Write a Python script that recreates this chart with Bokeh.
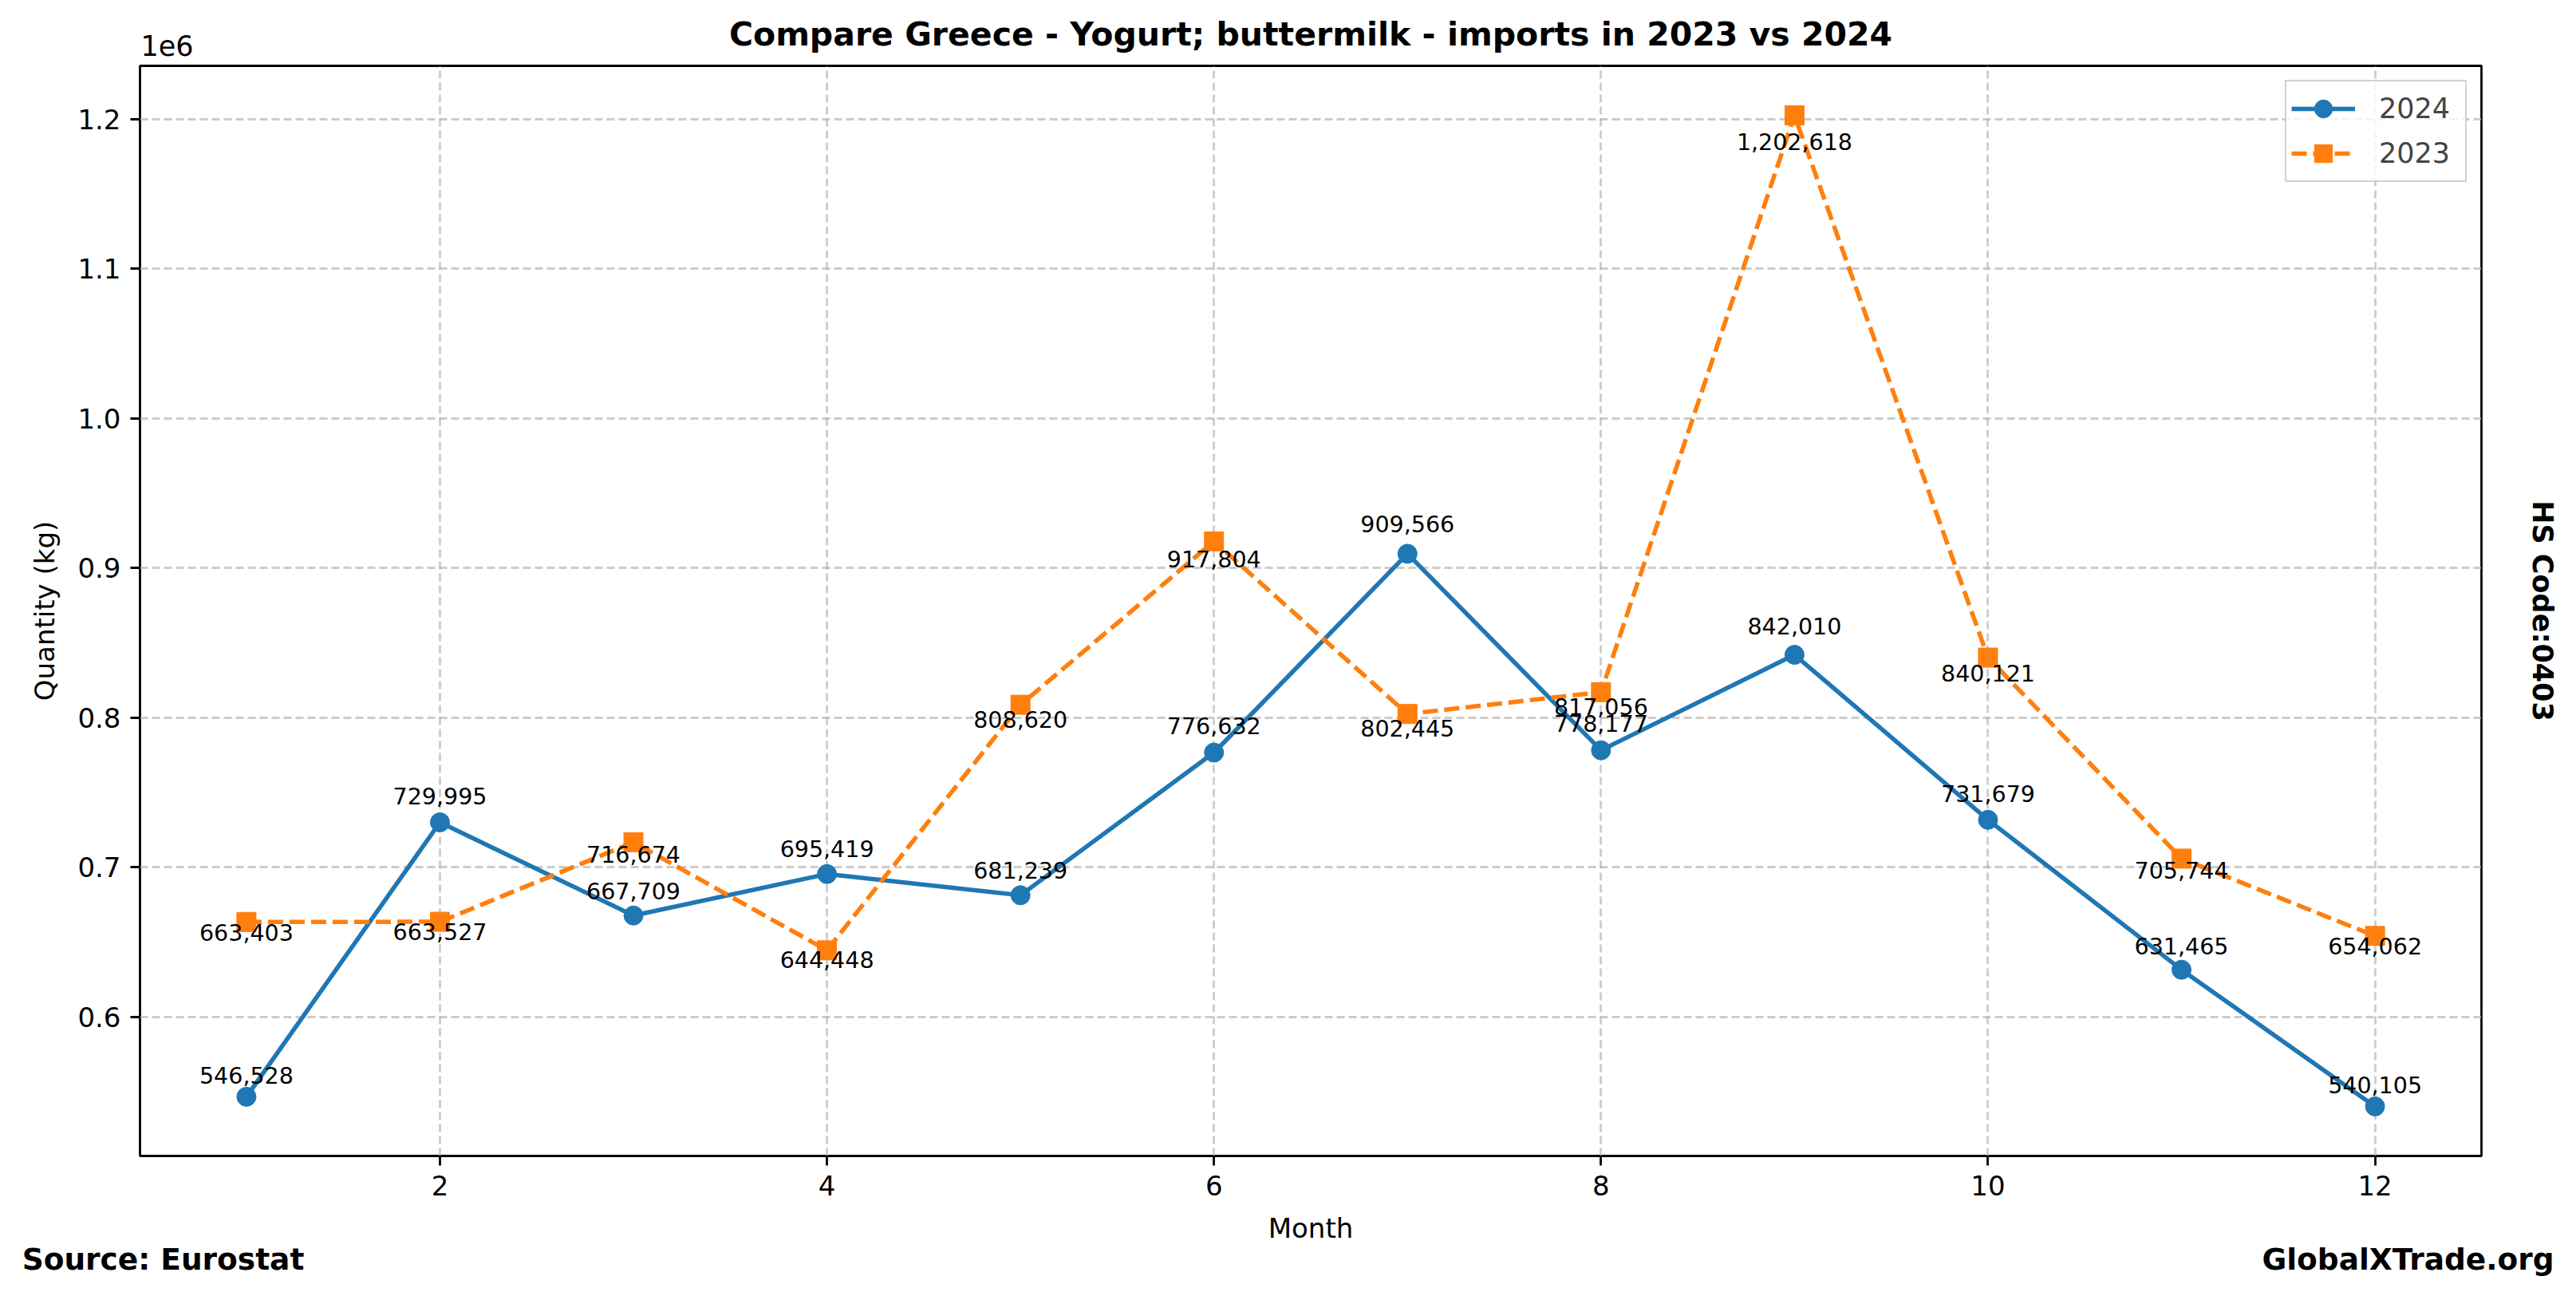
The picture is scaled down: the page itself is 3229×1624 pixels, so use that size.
from bokeh.plotting import figure
from bokeh.models import (Range1d, FixedTicker, CustomJSTickFormatter, LinearAxis,
                          Legend, LegendItem, ColumnDataSource)
from bokeh.core.properties import value
from bokeh.embed import file_html
from bokeh.resources import INLINE

months = [1, 2, 3, 4, 5, 6, 7, 8, 9, 10, 11, 12]
values_2024 = [546528, 729995, 667709, 695419, 681239, 776632,
               909566, 778177, 842010, 731679, 631465, 540105]
values_2023 = [663403, 663527, 716674, 644448, 808620, 917804,
               802445, 817056, 1202618, 840121, 705744, 654062]
x_ticks = [2, 4, 6, 8, 10, 12]
y_ticks = [600000, 700000, 800000, 900000, 1000000, 1100000, 1200000]

title_text = "Compare Greece - Yogurt; buttermilk - imports in 2023 vs 2024"
source_text = "Source: Eurostat"
site_text = "GlobalXTrade.org"
hs_text = "HS Code:0403"
FONT = "DejaVu Sans"
BLUE = "#1f77b4"
ORANGE = "#ff7f0e"

# value labels sit slightly above (2024) / below (2023) their point
LABEL_UP = 1.015
LABEL_DOWN = 0.98

all_vals = values_2024 + values_2023
vmin, vmax = min(all_vals), max(all_vals)
pad = 0.05 * (vmax - vmin)
xpad = 0.05 * (max(months) - min(months))

W, H = 3213, 1608
BL, BR, BT, BB = 175, 103, 82, 160
FW = W - BL - BR  # frame width in px

p = figure(width=W, height=H, output_backend="svg", toolbar_location=None,
           x_range=Range1d(min(months) - xpad, max(months) + xpad),
           y_range=Range1d(vmin - pad, vmax + pad),
           min_border_left=BL, min_border_right=BR,
           min_border_top=BT, min_border_bottom=BB)
p.background_fill_color = "white"
p.border_fill_color = "white"
p.outline_line_color = "black"
p.outline_line_width = 2.8
p.extra_x_ranges = {"px": Range1d(0, FW)}

# grid
for g in (p.xgrid, p.ygrid):
    g.grid_line_color = "#b0b0b0"
    g.grid_line_alpha = 0.65
    g.grid_line_width = 2.8
    g.grid_line_dash = "10 5"

p.xaxis.ticker = FixedTicker(ticks=x_ticks)
p.yaxis.ticker = FixedTicker(ticks=y_ticks)
p.yaxis.formatter = CustomJSTickFormatter(code="return (tick/1e6).toFixed(1);")
for ax in (p.xaxis, p.yaxis):
    ax.axis_line_color = None
    ax.major_tick_out = 12
    ax.major_tick_in = 0
    ax.major_tick_line_width = 2.8
    ax.major_tick_line_color = "black"
    ax.minor_tick_line_color = None
    ax.major_label_text_font = FONT
    ax.major_label_text_font_size = "34px"
    ax.major_label_text_color = "black"
    ax.major_label_standoff = 12
    ax.axis_label_text_font = FONT
    ax.axis_label_text_font_size = "34px"
    ax.axis_label_text_font_style = "normal"
    ax.axis_label_text_color = "black"
p.xaxis.axis_label = "Month"
p.yaxis.axis_label = "Quantity (kg)"
p.xaxis.axis_label_standoff = 18
p.yaxis.axis_label_standoff = 18


def bare_axis(ax):
    ax.axis_line_color = None
    ax.major_tick_line_color = None
    ax.minor_tick_line_color = None
    ax.major_tick_out = 0
    ax.major_tick_in = 0
    ax.minor_tick_out = 0
    ax.major_label_text_font = FONT
    ax.major_label_text_color = "black"
    ax.axis_label_text_font = FONT
    ax.axis_label_text_color = "black"
    return ax


# top: offset text "1e6" as a tick label, title as the axis label
top_ax = bare_axis(LinearAxis(x_range_name="px", ticker=FixedTicker(ticks=[34]),
                              formatter=CustomJSTickFormatter(code="return '1e6';")))
top_ax.major_label_text_font_size = "35px"
top_ax.major_label_standoff = 13
top_ax.axis_label = title_text
top_ax.axis_label_text_font_size = "41px"
top_ax.axis_label_text_font_style = "bold"
top_ax.axis_label_standoff = -26
p.add_layout(top_ax, "above")

# bottom footer texts
foot_ax = bare_axis(LinearAxis(
    x_range_name="px", ticker=FixedTicker(ticks=[29, FW - 92]),
    formatter=CustomJSTickFormatter(
        code=f"return tick < 1000 ? '{source_text}' : '{site_text}';")))
foot_ax.major_label_text_font_size = "37.5px"
foot_ax.major_label_text_font_style = "bold"
foot_ax.major_label_standoff = -6
p.add_layout(foot_ax, "below")

# right side HS code
right_ax = bare_axis(LinearAxis(ticker=FixedTicker(ticks=[]),
                                major_label_text_font_size="0px"))
right_ax.axis_label = hs_text
right_ax.axis_label_text_font_size = "35px"
right_ax.axis_label_text_font_style = "bold"
right_ax.axis_label_standoff = 56
p.add_layout(right_ax, "right")

# series
src24 = ColumnDataSource(dict(x=months, y=values_2024,
                              ty=[v * LABEL_UP for v in values_2024],
                              t=[f"{v:,}" for v in values_2024]))
src23 = ColumnDataSource(dict(x=months, y=values_2023,
                              ty=[v * LABEL_DOWN for v in values_2023],
                              t=[f"{v:,}" for v in values_2023]))

l24 = p.line("x", "y", source=src24, line_color=BLUE, line_width=5.5)
s24 = p.scatter("x", "y", source=src24, marker="circle", size=24,
                fill_color=BLUE, line_color=BLUE)
l23 = p.line("x", "y", source=src23, line_color=ORANGE, line_width=5.5,
             line_dash="19 8")
s23 = p.scatter("x", "y", source=src23, marker="square", size=24,
                fill_color=ORANGE, line_color=ORANGE)

p.text("x", "ty", text="t", source=src24, text_font=value(FONT),
       text_font_size="28.5px", text_align="center",
       text_baseline="alphabetic", y_offset=-12, text_color="black")
p.text("x", "ty", text="t", source=src23, text_font=value(FONT),
       text_font_size="28.5px", text_align="center",
       text_baseline="alphabetic", y_offset=-12, text_color="black")

legend = Legend(items=[LegendItem(label="2024", renderers=[l24, s24]),
                       LegendItem(label="2023", renderers=[l23, s23])],
                location="top_right")
legend.margin = 18
legend.padding = 6
legend.spacing = 0
legend.glyph_width = 80
legend.glyph_height = 56
legend.label_height = 56
legend.label_width = 102
legend.label_standoff = 30
legend.label_text_font = FONT
legend.label_text_font_size = "35px"
legend.border_line_color = "#cccccc"
legend.border_line_width = 2.8
legend.border_line_alpha = 0.9
legend.background_fill_alpha = 0.8
p.add_layout(legend)

open("out.html", "w").write(file_html(p, INLINE))
